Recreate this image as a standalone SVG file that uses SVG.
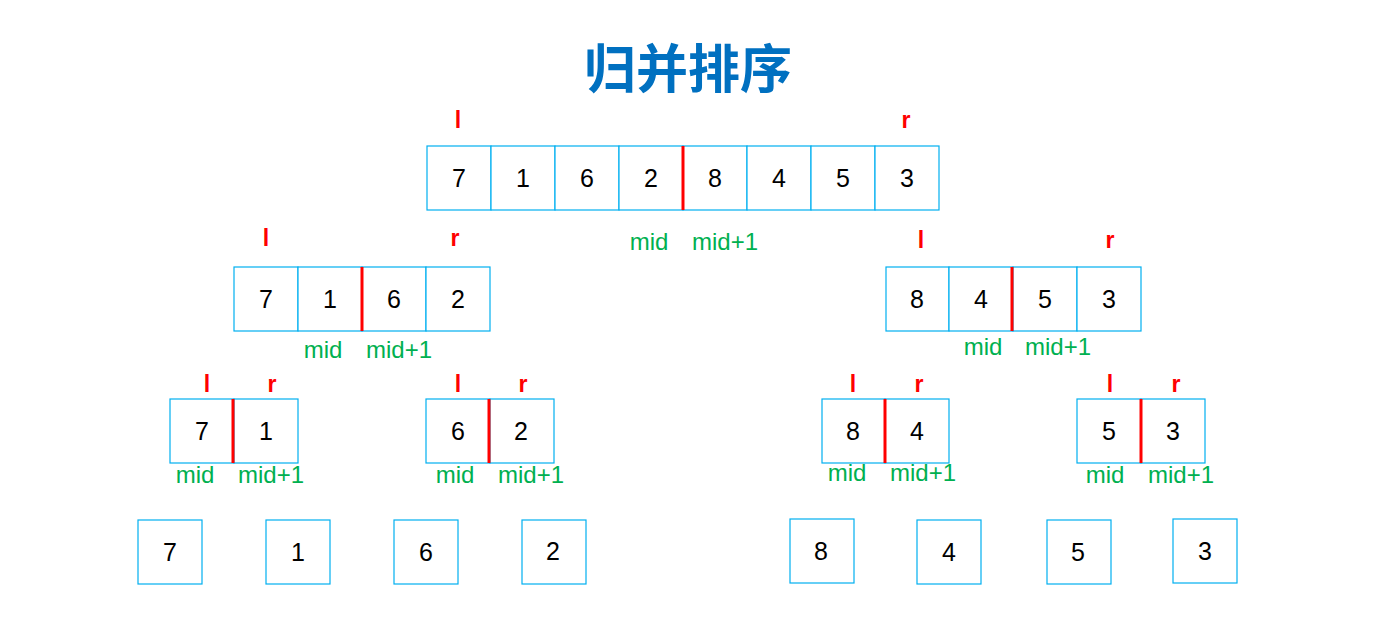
<svg xmlns="http://www.w3.org/2000/svg" width="1373" height="618" viewBox="0 0 1373 618">
<style>
.c{fill:#fff;stroke:#00b0f0;stroke-width:1.2}
.n{font-family:"Liberation Sans",Arial,sans-serif;font-size:25px;fill:#000;text-anchor:middle}
.lr{font-family:"Liberation Sans",Arial,sans-serif;font-size:23px;font-weight:bold;fill:#ff0000;text-anchor:middle}
.m{font-family:"Liberation Sans",Arial,sans-serif;font-size:24px;fill:#00b050;text-anchor:middle}
.d{stroke:#ff0000;stroke-width:3}
</style>
<rect width="1373" height="618" fill="#fff"/>
<text x="688" y="88" font-family="'Noto Sans CJK SC',sans-serif" font-size="52" font-weight="bold" fill="#0070c0" text-anchor="middle">归并排序</text>
<g id="top">
<rect class="c" x="427" y="146" width="64" height="64"/><rect class="c" x="491" y="146" width="64" height="64"/><rect class="c" x="555" y="146" width="64" height="64"/><rect class="c" x="619" y="146" width="64" height="64"/><rect class="c" x="683" y="146" width="64" height="64"/><rect class="c" x="747" y="146" width="64" height="64"/><rect class="c" x="811" y="146" width="64" height="64"/><rect class="c" x="875" y="146" width="64" height="64"/>
<line class="d" x1="683" y1="146" x2="683" y2="210"/>
<text class="n" x="459" y="187">7</text><text class="n" x="523" y="187">1</text><text class="n" x="587" y="187">6</text><text class="n" x="651" y="187">2</text><text class="n" x="715" y="187">8</text><text class="n" x="779" y="187">4</text><text class="n" x="843" y="187">5</text><text class="n" x="907" y="187">3</text>
<text class="lr" x="458" y="128">l</text><text class="lr" x="906" y="128">r</text>
<text class="m" x="649" y="250">mid</text><text class="m" x="725" y="250">mid+1</text>
</g>
<g id="l2a">
<rect class="c" x="234" y="267" width="64" height="64"/><rect class="c" x="298" y="267" width="64" height="64"/><rect class="c" x="362" y="267" width="64" height="64"/><rect class="c" x="426" y="267" width="64" height="64"/>
<line class="d" x1="362" y1="267" x2="362" y2="331"/>
<text class="n" x="266" y="308">7</text><text class="n" x="330" y="308">1</text><text class="n" x="394" y="308">6</text><text class="n" x="458" y="308">2</text>
<text class="lr" x="266" y="246">l</text><text class="lr" x="455" y="246">r</text>
<text class="m" x="323" y="358">mid</text><text class="m" x="399" y="358">mid+1</text>
</g>
<g id="l2b">
<rect class="c" x="886" y="267" width="63" height="64"/><rect class="c" x="949" y="267" width="64" height="64"/><rect class="c" x="1013" y="267" width="64" height="64"/><rect class="c" x="1077" y="267" width="64" height="64"/>
<line class="d" x1="1012" y1="267" x2="1012" y2="331"/>
<text class="n" x="917" y="308">8</text><text class="n" x="981" y="308">4</text><text class="n" x="1045" y="308">5</text><text class="n" x="1109" y="308">3</text>
<text class="lr" x="921" y="248">l</text><text class="lr" x="1110" y="248">r</text>
<text class="m" x="983" y="355">mid</text><text class="m" x="1058" y="355">mid+1</text>
</g>
<g id="l3a">
<rect class="c" x="170" y="399" width="64" height="64"/><rect class="c" x="234" y="399" width="64" height="64"/>
<line class="d" x1="233" y1="399" x2="233" y2="463"/>
<text class="n" x="202" y="440">7</text><text class="n" x="266" y="440">1</text>
<text class="lr" x="207" y="392">l</text><text class="lr" x="272" y="392">r</text>
<text class="m" x="195" y="483">mid</text><text class="m" x="271" y="483">mid+1</text>
</g>
<g id="l3b">
<rect class="c" x="426" y="399" width="64" height="64"/><rect class="c" x="490" y="399" width="64" height="64"/>
<line class="d" x1="489" y1="399" x2="489" y2="463"/>
<text class="n" x="458" y="440">6</text><text class="n" x="521" y="440">2</text>
<text class="lr" x="458" y="392">l</text><text class="lr" x="523" y="392">r</text>
<text class="m" x="455" y="483">mid</text><text class="m" x="531" y="483">mid+1</text>
</g>
<g id="l3c">
<rect class="c" x="822" y="399" width="63" height="64"/><rect class="c" x="885" y="399" width="64" height="64"/>
<line class="d" x1="885" y1="399" x2="885" y2="463"/>
<text class="n" x="853" y="440">8</text><text class="n" x="917" y="440">4</text>
<text class="lr" x="853" y="392">l</text><text class="lr" x="919" y="392">r</text>
<text class="m" x="847" y="481">mid</text><text class="m" x="923" y="481">mid+1</text>
</g>
<g id="l3d">
<rect class="c" x="1077" y="399" width="64" height="64"/><rect class="c" x="1141" y="399" width="64" height="64"/>
<line class="d" x1="1141" y1="399" x2="1141" y2="463"/>
<text class="n" x="1109" y="440">5</text><text class="n" x="1173" y="440">3</text>
<text class="lr" x="1110" y="392">l</text><text class="lr" x="1176" y="392">r</text>
<text class="m" x="1105" y="483">mid</text><text class="m" x="1181" y="483">mid+1</text>
</g>
<g id="leaves">
<rect class="c" x="138" y="520" width="64" height="64"/><text class="n" x="170" y="561">7</text>
<rect class="c" x="266" y="520" width="64" height="64"/><text class="n" x="298" y="561">1</text>
<rect class="c" x="394" y="520" width="64" height="64"/><text class="n" x="426" y="561">6</text>
<rect class="c" x="522" y="520" width="64" height="64"/><text class="n" x="553" y="560">2</text>
<rect class="c" x="790" y="519" width="64" height="64"/><text class="n" x="821" y="560">8</text>
<rect class="c" x="917" y="520" width="64" height="64"/><text class="n" x="949" y="561">4</text>
<rect class="c" x="1047" y="520" width="64" height="64"/><text class="n" x="1078" y="561">5</text>
<rect class="c" x="1173" y="519" width="64" height="64"/><text class="n" x="1205" y="560">3</text>
</g>
<g id="connectors"></g>
</svg>
